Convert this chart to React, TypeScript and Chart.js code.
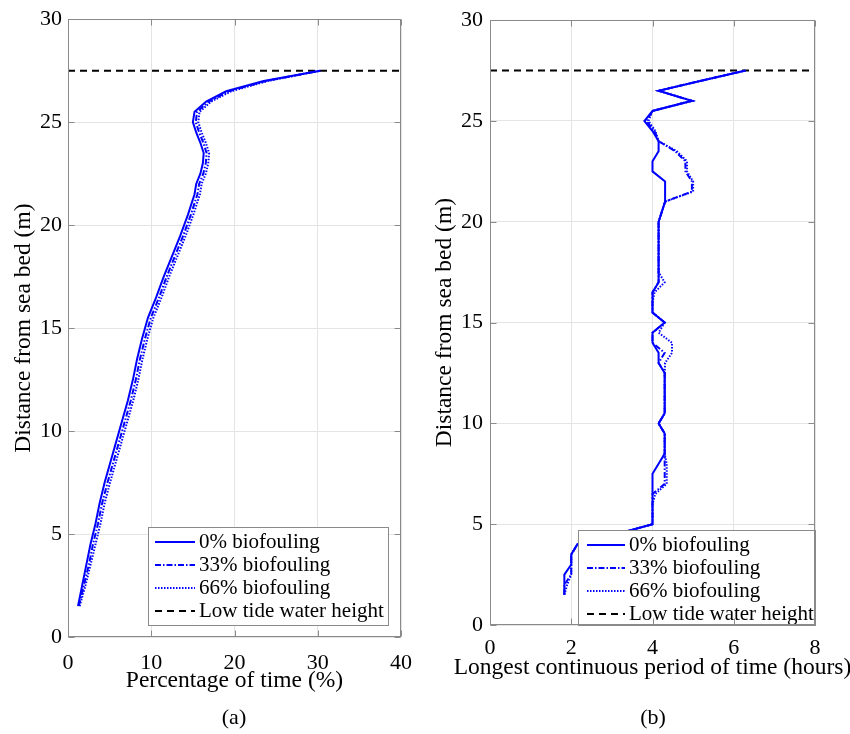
import React, { useEffect, useRef } from "react";
import { Chart, registerables } from "chart.js";
Chart.register(...registerables);

const FONT = '"Liberation Serif", "Times New Roman", Times, serif';

// ---------- data ----------
const seriesLabels = ["0% biofouling", "33% biofouling", "66% biofouling", "Low tide water height"];
const lowTideHeight = 27.5;

// (a) percentage of time vs distance from sea bed
const depthA = [1.5, 2.5, 3.5, 4.5, 5.5, 6.5, 7.5, 8.5, 9.5, 10.5, 11.5, 12.5, 13.5, 14.5, 15.5, 16.5, 17.5, 18.5, 19.5, 20.5, 21.5, 22, 22.5, 23, 23.5, 24, 24.5, 25, 25.5, 26, 26.5, 27, 27.5];
const pct0 = [1.2, 1.7, 2.2, 2.7, 3.3, 3.8, 4.4, 5.1, 5.8, 6.5, 7.2, 7.8, 8.3, 8.9, 9.6, 10.6, 11.5, 12.5, 13.5, 14.4, 15.2, 15.4, 15.9, 16.2, 16.3, 15.9, 15.4, 15.0, 15.2, 16.6, 19.0, 23.5, 30.3];
const pct33 = [1.3, 1.9, 2.5, 3.0, 3.6, 4.1, 4.75, 5.45, 6.15, 6.85, 7.55, 8.15, 8.65, 9.25, 9.95, 10.95, 11.85, 12.85, 13.85, 14.75, 15.55, 15.75, 16.25, 16.55, 16.65, 16.25, 15.75, 15.35, 15.5, 16.9, 19.3, 23.8, 30.3];
const pct66 = [1.4, 2.1, 2.7, 3.3, 3.9, 4.4, 5.05, 5.75, 6.45, 7.15, 7.85, 8.45, 8.95, 9.55, 10.25, 11.25, 12.15, 13.15, 14.15, 15.05, 15.85, 16.05, 16.55, 16.85, 16.95, 16.55, 16.05, 15.65, 15.8, 17.2, 19.6, 24.0, 30.3];

// (b) longest continuous period of time vs distance from sea bed
const depthB = [1.5, 2, 2.5, 3, 3.5, 4, 4.5, 5, 5.5, 6, 6.5, 7, 7.5, 8, 8.5, 9, 9.5, 10, 10.5, 11, 11.5, 12, 12.5, 13, 13.5, 14, 14.5, 15, 15.5, 16, 16.5, 17, 17.5, 18, 18.5, 19, 19.5, 20, 20.5, 21, 21.5, 22, 22.5, 23, 23.5, 24, 24.5, 25, 25.5, 26, 26.5, 27, 27.5];
const hrs0 = [1.83, 1.83, 1.83, 2.0, 2.0, 2.15, 3.1, 4.0, 4.0, 4.0, 4.0, 4.0, 4.0, 4.15, 4.3, 4.3, 4.3, 4.15, 4.3, 4.3, 4.3, 4.3, 4.3, 4.15, 4.15, 4.0, 4.0, 4.3, 4.0, 4.0, 4.0, 4.15, 4.15, 4.15, 4.15, 4.15, 4.15, 4.15, 4.23, 4.31, 4.31, 4.31, 4.0, 4.0, 4.15, 4.15, 4.0, 3.8, 4.0, 4.97, 4.15, 5.2, 6.29];
const hrs33 = [1.83, 1.83, 2.0, 2.0, 2.0, 2.15, 3.1, 4.0, 4.0, 4.0, 4.0, 4.3, 4.3, 4.3, 4.3, 4.3, 4.3, 4.15, 4.3, 4.3, 4.3, 4.3, 4.3, 4.15, 4.3, 4.0, 4.0, 4.3, 4.0, 4.0, 4.0, 4.15, 4.15, 4.15, 4.15, 4.15, 4.15, 4.15, 4.23, 4.31, 4.97, 4.97, 4.81, 4.81, 4.56, 4.15, 4.05, 3.85, 4.0, 4.97, 4.15, 5.2, 6.29];
const hrs66 = [1.83, 1.9, 2.0, 2.0, 2.0, 2.15, 3.1, 4.0, 4.0, 4.0, 4.07, 4.35, 4.35, 4.35, 4.3, 4.3, 4.3, 4.15, 4.3, 4.3, 4.3, 4.3, 4.3, 4.31, 4.48, 4.48, 4.15, 4.3, 4.0, 4.0, 4.05, 4.3, 4.15, 4.15, 4.15, 4.15, 4.15, 4.15, 4.23, 4.31, 5.0, 5.0, 4.85, 4.85, 4.6, 4.15, 4.07, 3.9, 4.0, 4.97, 4.15, 5.2, 6.29];

const axisA = { xMin: 0, xMax: 40, xStep: 10, yMin: 0, yMax: 30, yStep: 5 };
const axisB = { xMin: 0, xMax: 8, xStep: 2, yMin: 0, yMax: 30, yStep: 5 };
const xTitleA = "Percentage of time (%)";
const xTitleB = "Longest continuous period of time (hours)";
const yTitle = "Distance from sea bed (m)";

// ---------- styles ----------
const BLUE = "#0000ff";
const lineStyles = [
  { color: BLUE, dash: [] as number[], width: 2 },
  { color: BLUE, dash: [6, 2, 1.5, 2], width: 2 },
  { color: BLUE, dash: [1.5, 1.5], width: 2 },
  { color: "#000000", dash: [7, 5], width: 2 },
];
const TITLE_SIZE = 23.5;

const zip = (xs: number[], ys: number[]) => xs.map((x, i) => ({ x, y: ys[i] }));

const frameLegendPlugin = {
  id: "frameLegend",
  afterDatasetsDraw(chart: any, _args: any, opts: any) {
    const { ctx, chartArea: ca } = chart;
    const lg = opts.legend;
    ctx.save();
    // legend box
    const x1 = Math.round(ca.right - lg.right - lg.width);
    const y1 = Math.round(ca.bottom - lg.bottom - lg.height);
    ctx.fillStyle = "#ffffff";
    ctx.fillRect(x1, y1, lg.width, lg.height);
    ctx.strokeStyle = "#8a8a8a";
    ctx.lineWidth = 1;
    ctx.setLineDash([]);
    ctx.strokeRect(x1 + 0.5, y1 + 0.5, lg.width, lg.height);
    chart.data.datasets.forEach((ds: any, i: number) => {
      const cy = y1 + lg.firstRow + i * lg.rowGap;
      ctx.strokeStyle = ds.borderColor;
      ctx.lineWidth = ds.borderWidth;
      ctx.setLineDash(ds.borderDash || []);
      ctx.beginPath();
      ctx.moveTo(x1 + lg.sampleStart, cy);
      ctx.lineTo(x1 + lg.sampleEnd, cy);
      ctx.stroke();
      ctx.setLineDash([]);
      ctx.fillStyle = "#000";
      ctx.font = `21px ${FONT}`;
      ctx.textBaseline = "middle";
      ctx.textAlign = "left";
      ctx.fillText(ds.label, x1 + lg.textX, cy);
    });
    // axes frame with inward ticks
    const L = Math.round(ca.left) + 0.5;
    const R = Math.round(ca.right) - 0.5;
    const T = Math.round(ca.top) + 0.5;
    const B = Math.round(ca.bottom) - 0.5;
    ctx.strokeStyle = "#8a8a8a";
    ctx.lineWidth = 1;
    ctx.strokeRect(L, T, R - L, B - T);
    const tl = 6;
    const xs = chart.scales.x;
    const ys = chart.scales.y;
    ctx.beginPath();
    xs.ticks.forEach((_t: any, i: number) => {
      const px = Math.round(xs.getPixelForTick(i)) + 0.5;
      ctx.moveTo(px, B);
      ctx.lineTo(px, B - tl);
      ctx.moveTo(px, T);
      ctx.lineTo(px, T + tl);
    });
    ys.ticks.forEach((_t: any, i: number) => {
      const py = Math.round(ys.getPixelForTick(i)) + 0.5;
      ctx.moveTo(L, py);
      ctx.lineTo(L + tl, py);
      ctx.moveTo(R, py);
      ctx.lineTo(R - tl, py);
    });
    ctx.stroke();
    // x-axis title (drawn without width compression)
    ctx.fillStyle = "#000";
    ctx.font = `${TITLE_SIZE}px ${FONT}`;
    ctx.textAlign = "center";
    ctx.textBaseline = "middle";
    ctx.fillText(opts.xTitle, (ca.left + ca.right) / 2, opts.xTitleY);
    ctx.restore();
  },
};

type PanelProps = {
  xVals: number[][];
  yVals: number[];
  axis: typeof axisA;
  xTitle: string;
  layout: any;
};

function makeConfig(p: PanelProps) {
  const datasets = p.xVals.map((xs, i) => ({
    label: seriesLabels[i],
    data: zip(xs, p.yVals),
    borderColor: lineStyles[i].color,
    borderWidth: lineStyles[i].width,
    borderDash: lineStyles[i].dash,
    pointRadius: 0,
    tension: 0,
    showLine: true,
    fill: false,
  }));
  datasets.push({
    label: seriesLabels[3],
    data: [
      { x: p.axis.xMin, y: lowTideHeight },
      { x: p.axis.xMax, y: lowTideHeight },
    ],
    borderColor: lineStyles[3].color,
    borderWidth: lineStyles[3].width,
    borderDash: lineStyles[3].dash,
    pointRadius: 0,
    tension: 0,
    showLine: true,
    fill: false,
  });
  const lay = p.layout;
  const tickFont = { family: FONT, size: 22 };
  return {
    type: "scatter" as const,
    data: { datasets },
    plugins: [frameLegendPlugin],
    options: {
      animation: false,
      responsive: false,
      maintainAspectRatio: false,
      layout: { padding: lay.padding },
      plugins: {
        legend: { display: false },
        tooltip: { enabled: false },
        frameLegend: { legend: lay.legend, xTitle: p.xTitle, xTitleY: lay.xTitleY },
      },
      scales: {
        x: {
          type: "linear",
          min: p.axis.xMin,
          max: p.axis.xMax,
          ticks: { stepSize: p.axis.xStep, padding: lay.xTickPad, color: "#000", font: tickFont, maxRotation: 0 },
          grid: { color: "#e4e4e4", drawTicks: false },
          border: { display: false },
          title: { display: false },
          afterFit: (s: any) => {
            s.height = lay.xHeight;
          },
        },
        y: {
          type: "linear",
          min: p.axis.yMin,
          max: p.axis.yMax,
          ticks: { stepSize: p.axis.yStep, padding: lay.yTickPad, color: "#000", font: tickFont },
          grid: { color: "#e4e4e4", drawTicks: false },
          border: { display: false },
          title: {
            display: true,
            text: yTitle,
            color: "#000",
            font: { family: FONT, size: TITLE_SIZE },
            padding: { top: lay.yTitlePadTop, bottom: 0 },
          },
          afterFit: (s: any) => {
            s.width = lay.yWidth;
          },
        },
      },
    },
  };
}

function Panel(props: PanelProps & { left: number }) {
  const ref = useRef<HTMLCanvasElement | null>(null);
  useEffect(() => {
    if (!ref.current) return;
    const chart = new Chart(ref.current, makeConfig(props) as any);
    return () => chart.destroy();
  }, []);
  return (
    <canvas
      ref={ref}
      width={425}
      height={734}
      style={{ position: "absolute", left: props.left, top: 0, width: 425, height: 734 }}
    />
  );
}

const layoutA = {
  padding: { left: 0, top: 17, right: 24, bottom: 0 },
  xHeight: 97,
  yWidth: 68,
  xTickPad: 13,
  yTickPad: 6,
  xTitleY: 681,
  yTitlePadTop: 10,
  legend: { right: 13, bottom: 12, width: 240, height: 98, firstRow: 15, rowGap: 23, sampleStart: 7, sampleEnd: 47, textX: 51 },
};
const layoutB = {
  padding: { left: 0, top: 16, right: 35, bottom: 0 },
  xHeight: 109,
  yWidth: 65,
  xTickPad: 10,
  yTickPad: 7,
  xTitleY: 668,
  yTitlePadTop: 6,
  legend: { right: 0, bottom: 0, width: 237, height: 95, firstRow: 15, rowGap: 23, sampleStart: 9, sampleEnd: 47, textX: 51 },
};

export default function App() {
  const caption: React.CSSProperties = {
    position: "absolute",
    top: 704,
    fontFamily: FONT,
    fontSize: 22,
    lineHeight: "26px",
    color: "#000",
    transform: "translateX(-50%)",
    whiteSpace: "nowrap",
  };
  return (
    <div style={{ position: "fixed", left: 0, top: 0, width: 850, height: 734, background: "#fff", overflow: "hidden" }}>
      <Panel left={0} xVals={[pct0, pct33, pct66]} yVals={depthA} axis={axisA} xTitle={xTitleA} layout={layoutA} />
      <Panel left={425} xVals={[hrs0, hrs33, hrs66]} yVals={depthB} axis={axisB} xTitle={xTitleB} layout={layoutB} />
      <div style={{ ...caption, left: 234 }}>(a)</div>
      <div style={{ ...caption, left: 653 }}>(b)</div>
    </div>
  );
}
